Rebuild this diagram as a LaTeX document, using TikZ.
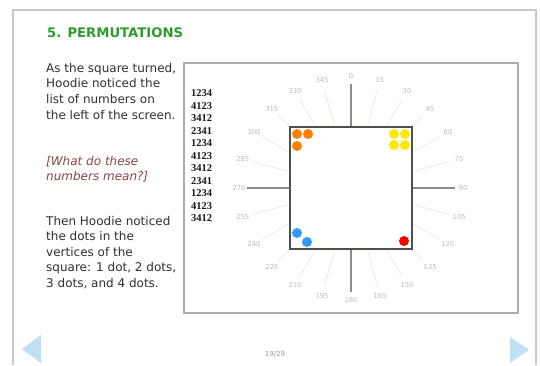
\documentclass[tikz,border=0pt]{standalone}
\usepackage{fontspec}
\setmainfont{DejaVu Sans}
\newfontfamily\numfont{Liberation Serif}
\definecolor{titlegreen}{HTML}{2E9B2E}
\definecolor{bodygray}{HTML}{303030}
\definecolor{askcol}{HTML}{8A4444}
\definecolor{framegray}{HTML}{C8C8C8}
\definecolor{boxgray}{HTML}{ABABAB}
\definecolor{sqgray}{HTML}{4A524A}
\definecolor{majgray}{HTML}{8C8C8C}
\definecolor{finegray}{HTML}{E4E4E4}
\definecolor{labgray}{HTML}{BDBDBD}
\definecolor{navblue}{HTML}{BFE0F5}
\definecolor{dotorange}{HTML}{FF8000}
\definecolor{dotyellow}{HTML}{FFE800}
\definecolor{dotblue}{HTML}{3399FF}
\definecolor{dotred}{HTML}{FF0000}
\begin{document}
\begin{tikzpicture}[x=1pt,y=-1pt,
  body/.style={anchor=base west,inner sep=0pt,text=bodygray,font=\fontsize{12}{14}\selectfont},
  ask/.style={anchor=base west,inner sep=0pt,text=askcol,font=\fontsize{12}{14}\selectfont\itshape},
  perm/.style={anchor=base west,inner sep=0pt,text=black!90,font=\numfont\bfseries\fontsize{10.5}{12}\selectfont},
  anglab/.style={inner sep=0pt,text=labgray,font=\fontsize{6.8}{8}\selectfont},
  fine/.style={draw=finegray,line width=0.6pt},
  major/.style={draw=majgray,line width=2pt},
  dot/.style={circle,inner sep=0pt,minimum size=10pt}]
\useasboundingbox (0,0) rectangle (540,365);
\fill[white] (0,0) rectangle (540,365);
% page frame
\draw[framegray,line width=1.5pt] (13,365) -- (13,10) -- (536,10) -- (536,365);
% title
\node[anchor=base west,inner sep=0pt,text=titlegreen,font=\fontsize{13.2}{15}\selectfont\bfseries] (title) at (47,37) {5. PERMUTATIONS};
% left text
\foreach \t [count=\i] in {{As the square turned,},{Hoodie noticed the},{list of numbers on},{the left of the screen.}}
  \node[body] (p\i) at (46,{72+15.7*(\i-1)}) {\t};
\foreach \t [count=\i] in {{[What do these},{numbers mean?]}}
  \node[ask] (q\i) at (46,{165+15.3*(\i-1)}) {\t};
\foreach \t [count=\i] in {{Then Hoodie noticed},{the dots in the},{vertices of the},{square: 1 dot, 2 dots,},{3 dots, and 4 dots.}}
  \node[body] (r\i) at (46,{225+15.5*(\i-1)}) {\t};
% inner box
\draw[boxgray,line width=1.5pt] (184,63) rectangle (518,313);
% permutation list
\foreach \t [count=\i] in {1234,4123,3412,2341,1234,4123,3412,2341,1234,4123,3412}
  \node[perm] (n\i) at (191,{96.5+12.5*(\i-1)}) {\t};
% fine radial lines
\foreach \a in {0,15,...,345}{
  \pgfmathtruncatemacro{\m}{mod(\a,90)}
  \ifnum\m=0\relax\else
    \draw[fine] (351,188) -- ++({102*sin(\a)},{-102*cos(\a)});
  \fi
}
% angle labels
\foreach \a in {0,15,...,345}
  \node[anglab] (a\a) at ({351+112*sin(\a)},{188-112*cos(\a)}) {\a};
% major axes
\draw[major] (351,188) -- (351,84);
\draw[major] (351,188) -- (455,188);
\draw[major] (351,188) -- (351,292);
\draw[major] (351,188) -- (247,188);
% square
\draw[sqgray,line width=2.5pt,fill=white] (290,127) rectangle (412,249);
% dots
\node[dot,fill=dotorange] (o1) at (297,134) {};
\node[dot,fill=dotorange] (o2) at (308,134) {};
\node[dot,fill=dotorange] (o3) at (297,146) {};
\node[dot,fill=dotyellow] (y1) at (394,134) {};
\node[dot,fill=dotyellow] (y2) at (405,134) {};
\node[dot,fill=dotyellow] (y3) at (394,145) {};
\node[dot,fill=dotyellow] (y4) at (405,145) {};
\node[dot,fill=dotblue] (b1) at (297,233) {};
\node[dot,fill=dotblue] (b2) at (307,242) {};
\node[dot,fill=dotred] (d1) at (404,241) {};
% navigation
\fill[navblue] (22,349) -- (41,335) -- (41,363) -- cycle;
\fill[navblue] (510,337) -- (529,350) -- (510,363) -- cycle;
\node[inner sep=0pt,text=black!40,font=\fontsize{7}{8}\selectfont] (pg) at (275,354) {19/29};
\end{tikzpicture}
\end{document}
